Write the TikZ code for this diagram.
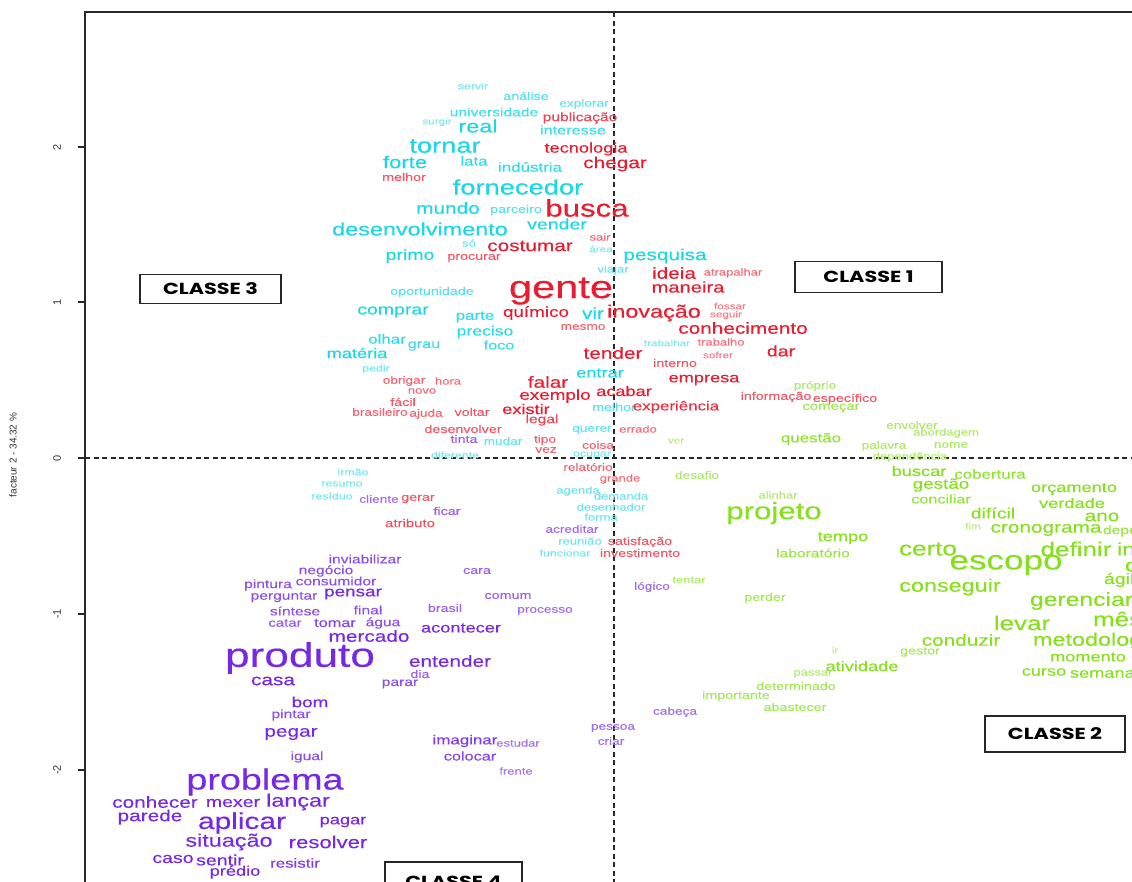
\documentclass[tikz,border=0pt]{standalone}
\usepackage{fontspec}
\setmainfont{Liberation Sans}[FakeStretch=1.3, FakeBold=0.35]
\newfontfamily\axisfont{Liberation Sans}
\newfontfamily\boxfont{Poppins}[FakeStretch=1.3]
\definecolor{clsred}{RGB}{234,28,48}
\definecolor{clsgreen}{RGB}{134,224,30}
\definecolor{clscyan}{RGB}{28,216,228}
\definecolor{clspurple}{RGB}{118,40,228}
\definecolor{axisgray}{RGB}{40,40,40}
\tikzset{
  word/.style={inner sep=0pt, outer sep=0pt},
  axisline/.style={draw=axisgray, line width=1.1pt},
  centreline/.style={draw=axisgray, line width=1.3pt, dash pattern=on 5pt off 3.5pt},
  classbox/.style={draw=black!85, line width=1.4pt, fill=white, inner sep=0pt,
    minimum width=141pt, minimum height=29pt, font=\boxfont\bfseries\fontsize{16}{16}\selectfont},
  ticklabel/.style={inner sep=0pt, rotate=90, font=\axisfont\fontsize{11}{11}\selectfont, text=black!80},
}
% place one class of words: x/y/size/text, centred
\newcommand\wordclass[3]{%
  \foreach \x/\y/\s/\t [count=\n] in {#3} {%
    \pgfmathtruncatemacro\tint{min(100,55+(\s-9)*9)}%
    \node[word, text=#1!\tint!white, font=\fontsize{\s}{\s}\selectfont] (#2\n) at (\x,\y) {\t};
  }}
% same, but anchored at the left edge (words running past the frame)
\newcommand\wordclasswest[3]{%
  \foreach \x/\y/\s/\t [count=\n] in {#3} {%
    \pgfmathtruncatemacro\tint{min(100,55+(\s-9)*9)}%
    \node[word, anchor=west, text=#1!\tint!white, font=\fontsize{\s}{\s}\selectfont] (#2\n) at (\x,\y) {\t};
  }}
\begin{document}
\begin{tikzpicture}[x=1pt,y=-1pt]
\useasboundingbox (0,0) rectangle (1132,881);
\begin{scope}
\clip (0,0) rectangle (1132,881);

% plot frame and ticks
\coordinate (frameTL) at (85,12);
\coordinate (frameTR) at (1140,12);
\coordinate (frameBL) at (85,890);
\draw[axisline] (frameBL) -- (frameTL) -- (frameTR);
\foreach \ty/\tl [count=\k] in {147/2, 302/1, 458/0, 614/-1, 770/-2} {
  \coordinate (tick\k) at (85,\ty);
  \draw[axisline] (tick\k) -- ++(-7,0);
  \node[ticklabel] (ticklab\k) at (57,\ty) {\tl};
}
\node[ticklabel, font=\axisfont\fontsize{10}{10}\selectfont] (ylab) at (13,455) {facteur 2 - 34.32 \%};

% dashed centre lines
\coordinate (vtop) at (614,12);
\coordinate (vbot) at (614,890);
\coordinate (hleft) at (85,458);
\coordinate (hright) at (1140,458);
\draw[centreline] (vtop) -- (vbot);
\draw[centreline] (hleft) -- (hright);

% class 3 (cyan)
\wordclass{clscyan}{cy}{473/86/9.5/servir, 526/96/11/análise, 584/104/10.5/explorar,
  494/112/12/universidade, 437/122/9/surgir, 478/126/18/real, 573/130/12.5/interesse,
  445/146/21/tornar, 405/162/17/forte, 474/161/13/lata, 530/167/13/indústria,
  518/187/21/fornecedor, 448/208/16/mundo, 516/210/11/parceiro, 420/229/18/desenvolvimento,
  557/224/15/vender, 469/243/10/só, 601/249/9/área, 410/256/15/primo, 665/256/16/pesquisa,
  613/270/10/viajar, 432/292/11/oportunidade, 593/313/16/vir, 393/312/15/comprar,
  475/317/13/parte, 485/332/13.5/preciso, 387/339/13/olhar, 424/346/12.5/grau,
  499/345/12.5/foco, 357/353/14/matéria, 667/343/9/trabalhar, 376/369/9.5/pedir,
  600/373/14/entrar, 614/407/11/melhor, 592/430/10.5/querer, 503/441/10.5/mudar,
  455/455/9.5/diferente, 592/455/9.5/ocupar, 353/472/9.5/irmão, 342/484/9.5/resumo,
  332/496/9.5/resíduo, 578/491/10/agenda, 621/496/10/demanda, 611/507/10/desenhador,
  601/517/10/forma, 580/541/10/reunião, 565/553/9.5/funcionar}

% class 1 (red)
\wordclass{clsred}{rd}{580/118/12/publicação, 586/149/14/tecnologia, 615/164/16/chegar,
  404/177/11/melhor, 587/208/24/busca, 600/237/10/sair, 530/246/16/costumar,
  474/258/11/procurar, 561/291/32/gente, 674/273/16/ideia, 733/273/10/atrapalhar,
  688/287/15.5/maneira, 654/313/18/inovação, 730/306/9/fossar, 726/315/9/seguir,
  743/328/16/conhecimento, 583/327/10.5/mesmo, 536/313/14.5/químico, 613/353/16/tender,
  721/342/10/trabalho, 781/351/15/dar, 718/355/9/sofrer, 675/363/11/interno,
  404/381/10.5/obrigar, 448/381/10/hora, 422/391/10/novo, 548/382/16/falar,
  555/396/14.5/exemplo, 624/391/14/acabar, 704/380/14/empresa, 403/402/11/fácil,
  380/412/10.5/brasileiro, 426/414/10.5/ajuda, 472/412/11/voltar, 526/409/14/existir,
  542/420/12/legal, 676/407/13/experiência, 776/397/11/informação, 845/399/11/específico,
  638/429/10/errado, 598/445/10.5/coisa, 463/429/11/desenvolver, 545/440/10.5/tipo,
  546/450/10.5/vez, 588/467/10.5/relatório, 620/479/10/grande, 418/499/11/gerar,
  410/523/11.5/atributo, 640/542/11/satisfação, 640/553/11/investimento}

% class 2 (green)
\wordclass{clsgreen}{gr}{815/386/10.5/próprio, 831/408/11.5/começar, 811/439/13/questão,
  676/441/9/ver, 697/475/10.5/desafio, 912/425/10.5/envolver, 946/433/10/abordagem,
  884/446/10.5/palavra, 951/445/10.5/nome, 910/457/10/dependência, 919/471/14/buscar,
  990/474/13/cobertura, 941/485/14.5/gestão, 941/499/12.5/conciliar, 1074/489/14/orçamento,
  1072/503/14/verdade, 993/513/15/difícil, 1102/517/16/ano, 973/526/9/fim,
  1046/530/16/cronograma, 778/495/10/alinhar, 774/513/24/projeto, 843/538/14/tempo,
  813/553/12/laboratório, 689/580/10/tentar, 765/598/11/perder, 928/549/20/certo,
  1076/549/20/definir, 1006/565/27/escopo, 950/587/18/conseguir, 1022/623/20/levar,
  961/640/16/conduzir, 920/652/11/gestor, 1088/657/14/momento, 1044/672/14/curso,
  835/650/9/ir, 862/666/14/atividade, 813/674/10/passar, 796/686/11/determinado,
  736/696/11/importante, 795/707/11/abastecer}
\wordclasswest{clsgreen}{grw}{1103/531/12/dependente, 1117/549/18/inovar,
  1125/565/18/comunicar, 1104/580/15/ágil, 1030/601/19/gerenciar, 1093/619/20/mês,
  1033/641/18/metodologia, 1070/674/14/semana}

% class 4 (purple)
\wordclass{clspurple}{pu}{464/439/11/tinta, 379/499/10.5/cliente, 447/511/11/ficar,
  572/529/10.5/acreditar, 652/587/10.5/lógico, 675/712/10.5/cabeça, 613/728/10.5/pessoa,
  611/741/10.5/criar, 365/559/12/inviabilizar, 326/571/12/negócio, 477/571/11/cara,
  268/585/12/pintura, 336/581/12/consumidor, 284/597/12/perguntar, 353/594/14.5/pensar,
  508/596/11/comum, 295/611/12/síntese, 368/610/12/final, 445/608/11/brasil,
  545/611/10.5/processo, 285/623/11.5/catar, 335/623/12.5/tomar, 383/623/12/água,
  461/628/14/acontecer, 369/636/16/mercado, 300/658/34/produto, 450/661/16/entender,
  273/681/16/casa, 420/674/11/dia, 400/684/12/parar, 310/702/14.5/bom, 291/715/12/pintar,
  291/734/16/pegar, 307/757/12/igual, 465/741/13/imaginar, 518/743/10/estudar,
  470/756/12.5/colocar, 516/771/10/frente, 265/782/29/problema, 155/802/16/conhecer,
  233/803/15/mexer, 298/802/18/lançar, 150/817/16/parede, 242/823/23/aplicar,
  343/822/14/pagar, 229/842/18/situação, 328/842/17/resolver, 173/859/15/caso,
  220/860/15/sentir, 295/863/13/resistir, 235/872/14/prédio}

% class labels
\node[classbox] (classe3) at (210.5,289) {CLASSE 3};
\node[classbox, minimum width=147pt, minimum height=31pt] (classe1) at (868.5,277) {CLASSE 1};
\node[classbox, minimum width=140pt, minimum height=36pt] (classe2) at (1055,734) {CLASSE 2};
\node[classbox, minimum width=137pt, minimum height=40pt] (classe4) at (453.5,882) {CLASSE 4};
\end{scope}
\end{tikzpicture}
\end{document}
